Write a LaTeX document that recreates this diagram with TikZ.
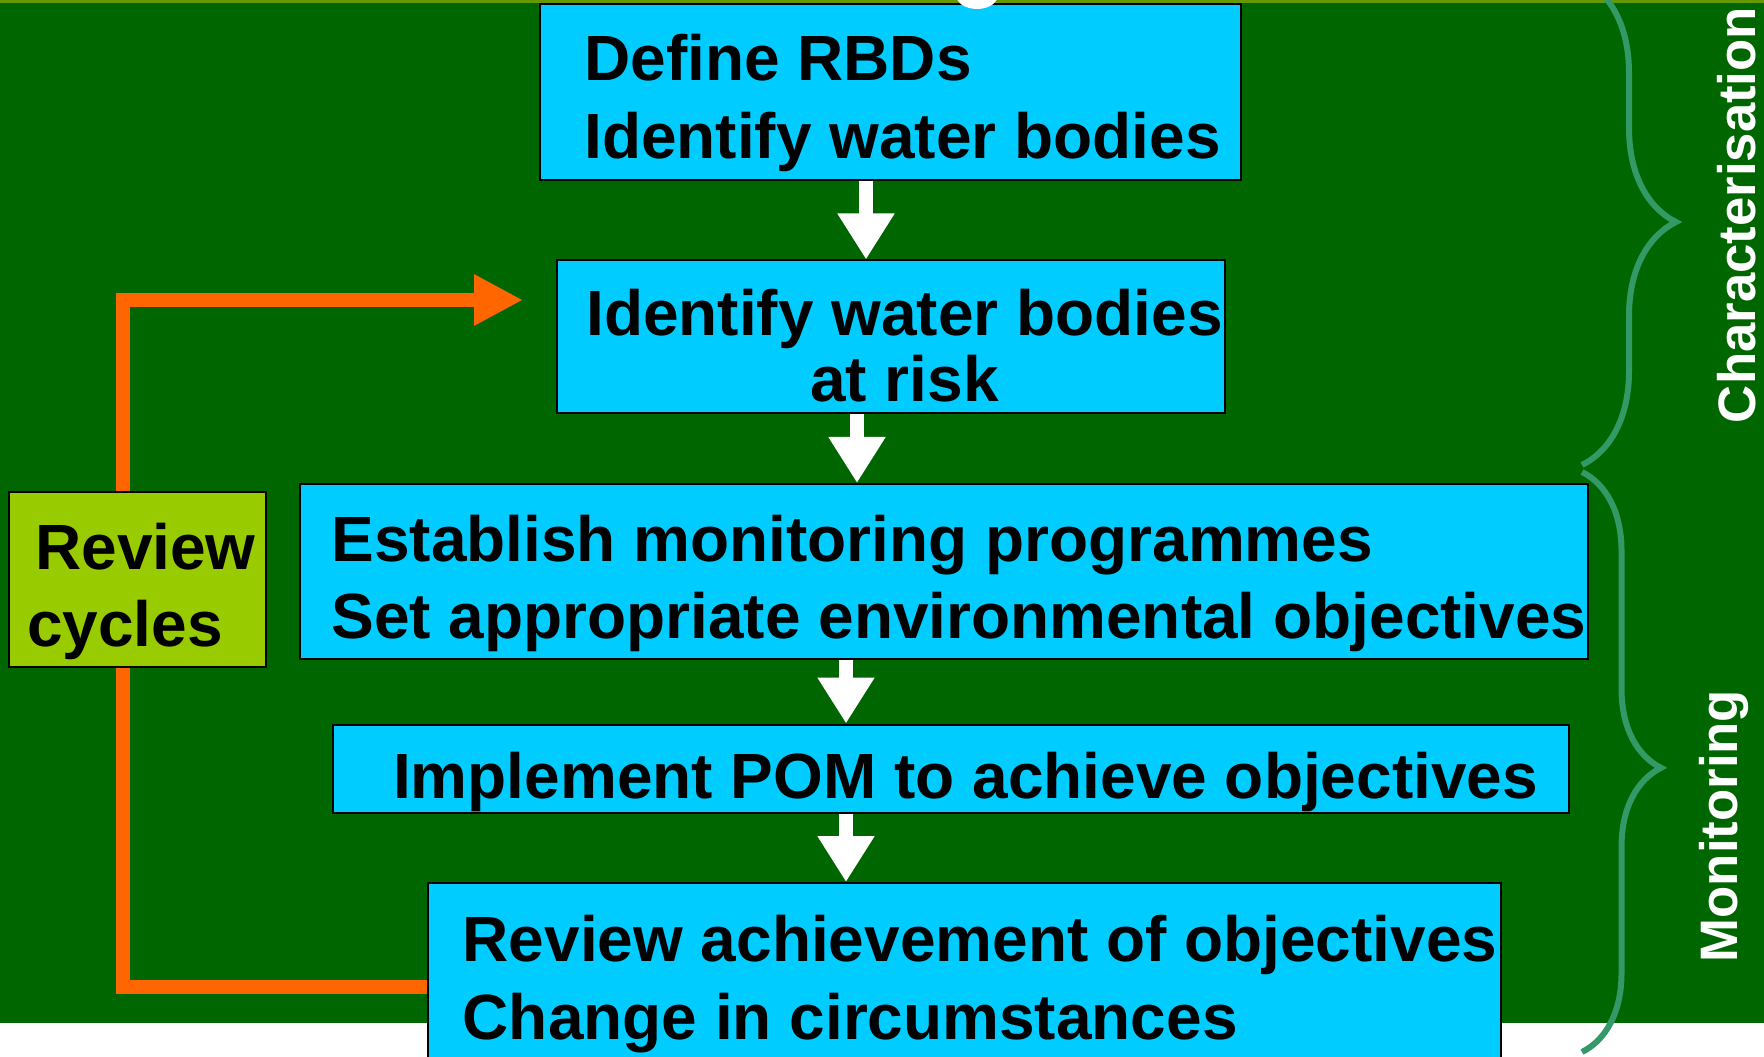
\documentclass[tikz,border=0pt]{standalone}
\usepackage{fontspec}
\setmainfont{Liberation Sans}
\usetikzlibrary{positioning,arrows.meta,decorations.pathreplacing}

\definecolor{bggreen}{HTML}{006600}
\definecolor{boxcyan}{HTML}{00CCFF}
\definecolor{reviewgreen}{HTML}{99CC00}
\definecolor{loopred}{HTML}{FF6600}
\definecolor{bracegreen}{HTML}{339966}
\definecolor{topolive}{HTML}{669900}

\tikzset{
    stage/.style={
        draw=black,
        line width=0.02cm,
        fill=boxcyan,
        inner sep=0pt
    },
    stagetext/.style={
        text=black,
        font=\fontsize{18.2}{22}\selectfont\bfseries,
        align=left,
        inner sep=0pt
    },
    down/.style={
        draw=white,
        line width=0.14cm,
        -{Triangle[width=0.54cm,length=0.46cm]}
    },
    feedback/.style={
        draw=loopred,
        line width=0.135cm,
        -{Triangle[width=0.48cm,length=0.49cm]}
    },
    phasebrace/.style={
        draw=bracegreen,
        line width=0.06cm,
        decorate
    },
    phaselabel/.style={
        text=white,
        font=\fontsize{15}{17}\selectfont\bfseries,
        rotate=90,
        anchor=base,
        inner sep=0pt
    }
}

\begin{document}
\begin{tikzpicture}
                \useasboundingbox (0,0) rectangle (17.64,-10.57);
                \fill[white] (0,0) rectangle (17.64,-10.57);
                \fill[bggreen] (0,0) rectangle (17.64,-10.23);
                \fill[topolive] (0,0) rectangle (17.64,-0.03);

                % boxes
                \node[stage, minimum width=7.01cm, minimum height=1.76cm] (rbd) at (8.905,-0.92) {};
                \fill[white] (9.77,0.05) ellipse (0.21cm and 0.14cm);
                \node[stage, minimum width=6.68cm, minimum height=1.53cm] (risk) [below=0.785cm of rbd] {};
                \node[stage, minimum width=12.88cm, minimum height=1.75cm] (monitor) [below=0.685cm of risk, xshift=0.53cm] {};
                \node[stage, minimum width=12.36cm, minimum height=0.88cm] (pom) [below=0.635cm of monitor, xshift=0.07cm] {};
                \node[stage, minimum width=10.73cm, minimum height=1.98cm] (achieve) [below=0.685cm of pom, xshift=0.135cm] {};

                \node[stagetext] (rbdtext) at ([shift={(0.12,-0.11)}]rbd.center) {Define RBDs\\Identify water bodies};
                \node[stagetext, align=center, font=\fontsize{18.2}{18.8}\selectfont\bfseries] (risktext) at ([shift={(0.14,-0.09)}]risk.center) {Identify water bodies\\at risk};
                \node[stagetext] (monitortext) at ([shift={(0.155,-0.12)}]monitor.center) {Establish monitoring programmes\\Set appropriate environmental objectives};
                \node[stagetext] (pomtext) at ([shift={(0.15,-0.135)}]pom.center) {Implement POM to achieve objectives};
                \node[stagetext] (achievetext) at ([shift={(0.16,-0.02)}]achieve.center) {Review achievement of objectives\\Change in circumstances};

                \draw[down] ([xshift=-0.245cm]rbd.south) -- ([xshift=-0.245cm]rbd.south |- risk.north);
                \draw[down] ([xshift=-0.335cm]risk.south) -- ([xshift=-0.335cm]risk.south |- monitor.north);
                \draw[down] ([xshift=-0.975cm]monitor.south) -- ([xshift=-0.975cm]monitor.south |- pom.north);
                \draw[down] ([xshift=-1.045cm]pom.south) -- ([xshift=-1.045cm]pom.south |- achieve.north);

                % review loop
                \coordinate (back) at (1.23,-3.00);
                \coordinate (into) at (5.23,-3.00);
                \draw[feedback] ([yshift=-0.05cm]achieve.west) -| (back) -- (into);
                \node[stage, fill=reviewgreen, minimum width=2.56cm, minimum height=1.75cm] (review) [left=0.32cm of monitor, yshift=-0.08cm] {};
                \node[stagetext] (reviewtext) at ([shift={(0.04,-0.12)}]review.center) {\hspace*{0.08cm}Review\\cycles};

                % phases
                \draw[phasebrace, decoration={brace,amplitude=0.94cm}] (15.82,0.21) -- (15.82,-4.65);
                \draw[phasebrace, decoration={brace,amplitude=0.79cm,aspect=0.51}] (15.82,-4.72) -- (15.82,-10.52);
                \node[phaselabel] (charlabel) at (17.55,-2.15) {Characterisation};
                \node[phaselabel] (monlabel) at (17.37,-8.26) {Monitoring};
            \end{tikzpicture}
\end{document}
